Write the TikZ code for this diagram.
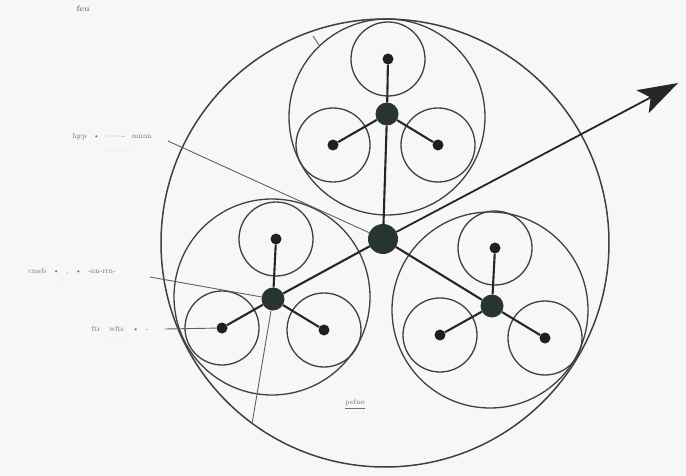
\documentclass[tikz,border=0pt]{standalone}
\usetikzlibrary{arrows.meta}
\begin{document}
\begin{tikzpicture}[x=1pt,y=-1pt,
  ring/.style={circle, draw=black!75, line width=1.3pt, inner sep=0pt},
  spoke/.style={draw=black!85, line width=2.1pt},
  leader/.style={draw=black!62, line width=0.9pt},
  sat/.style={circle, fill=black!88, inner sep=0pt, minimum size=11pt},
  hubn/.style={circle, fill=hubcol, inner sep=0pt, minimum size=23pt},
  chub/.style={circle, fill=hubcol, inner sep=0pt, minimum size=30pt},
  lab/.style={font=\fontsize{7.5}{8}\selectfont, text=black!55, inner sep=1pt},
  sublab/.style={font=\fontsize{4}{5}\selectfont, text=black!22, inner sep=0pt}]
\definecolor{hubcol}{RGB}{40,52,48}
\useasboundingbox (0,0) rectangle (686,476);
\fill[black!3] (0,0) rectangle (686,476);

% outer circle
\node[ring, line width=1.5pt, minimum size=448pt] (outer) at (385,243) {};

% cluster big circles
\node[ring, minimum size=196pt] (Tbig) at (387,117) {};
\node[ring, minimum size=196pt] (Lbig) at (272,297) {};
\node[ring, minimum size=196pt] (Rbig) at (490,310) {};

% small circles
\node[ring, minimum size=74pt] (Tc1) at (388,59) {};
\node[ring, minimum size=74pt] (Tc2) at (333,145) {};
\node[ring, minimum size=74pt] (Tc3) at (438,145) {};
\node[ring, minimum size=74pt] (Lc1) at (276,239) {};
\node[ring, minimum size=74pt] (Lc2) at (222,328) {};
\node[ring, minimum size=74pt] (Lc3) at (324,330) {};
\node[ring, minimum size=74pt] (Rc1) at (495,248) {};
\node[ring, minimum size=74pt] (Rc2) at (440,335) {};
\node[ring, minimum size=74pt] (Rc3) at (545,338) {};

% hubs
\node[chub] (C) at (383,239) {};
\node[hubn] (T) at (387,114) {};
\node[hubn] (L) at (273,299) {};
\node[hubn] (R) at (492,306) {};

% satellite dots
\node[sat] (T1) at (388,59) {};
\node[sat] (T2) at (333,145) {};
\node[sat] (T3) at (438,145) {};
\node[sat] (L1) at (276,239) {};
\node[sat] (L2) at (222,328) {};
\node[sat] (L3) at (324,330) {};
\node[sat] (R1) at (495,248) {};
\node[sat] (R2) at (440,335) {};
\node[sat] (R3) at (545,338) {};

% spokes
\draw[spoke] (C) -- (T);
\draw[spoke] (C) -- (L);
\draw[spoke] (C) -- (R);
\foreach \h in {T,L,R}{
  \draw[spoke] (\h) -- (\h1);
  \draw[spoke] (\h) -- (\h2);
  \draw[spoke] (\h) -- (\h3);
}

% arrow
\coordinate (tip) at (678,83);
\draw[spoke, line width=1.8pt, -{Stealth[length=40pt,width=26pt,inset=9pt]}] (C) -- (tip);

% labels and leaders
\node[lab, font=\fontsize{8}{9}\selectfont\bfseries, text=black!50] (lab0) at (83,9) {feu};
\node[lab] (lab1) at (112,137) {fqrp\;\; \textbullet\;\; -------\;\; mnnn};
\node[sublab] (sub1) at (120,152) {- - - - - - - - -};
\node[lab] (lab2) at (72,272) {cmeb\;\; \textbullet\;\; ,\;\; \textbullet\;\; -nn-rrn-};
\node[sublab] (sub2) at (60,285) {- - - -};
\node[lab] (lab3) at (120,329) {ftr\;\;\; wfts\;\;\; \textbullet\;\; -};
\node[sublab] (sub3) at (118,343) {- - - - - -};
\node[lab] (lab4) at (355,404) {\underline{pefno}};
\node[sublab] (sub4) at (356,413) {- - - - -};

\coordinate (k1) at (168,141);
\coordinate (k2) at (150,277);
\coordinate (k3) at (165,329);
\coordinate (k4) at (252,424);
\draw[leader] (k1) -- (C);
\draw[leader] (k2) -- (L);
\draw[leader] (k3) -- (L2);
\draw[leader] (L) -- (k4);
\coordinate (t1) at (313,36);
\coordinate (t2) at (319,45);
\draw[leader] (t1) -- (t2);
\end{tikzpicture}
\end{document}
